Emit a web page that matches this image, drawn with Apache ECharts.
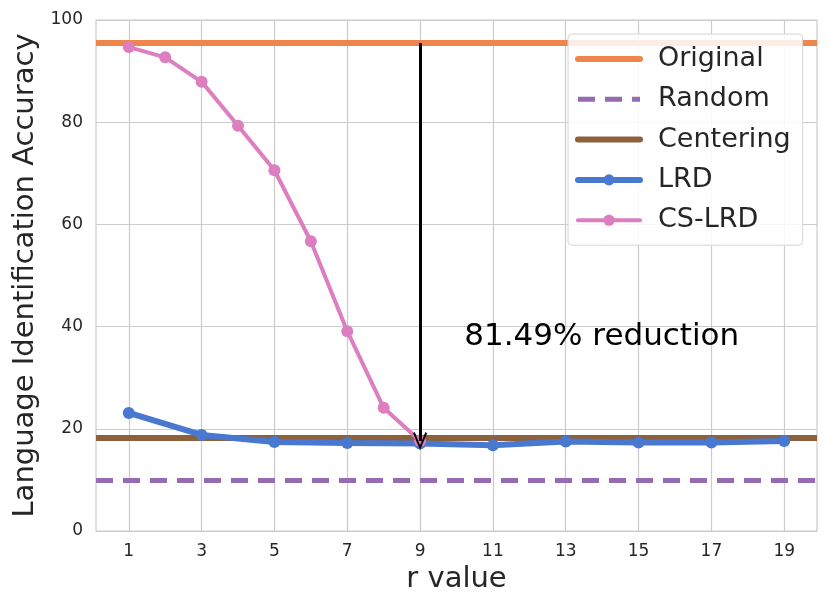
<!DOCTYPE html>
<html lang="en">
<head>
	<meta charset="UTF-8">
	<title>Language Identification Accuracy</title>
	<script src="https://cdn.jsdelivr.net/npm/echarts@6/dist/echarts.min.js"></script>
</head>
<body style="margin:0;">
	<div id='main' style="width:830px;height:611px;"></div>
<script type="text/javascript">
// data
var rTicks = [1, 3, 5, 7, 9, 11, 13, 15, 17, 19];
var lrdR   = [1, 3, 5, 7, 9, 11, 13, 15, 17, 19];
var lrdAcc = [23.1, 18.8, 17.4, 17.2, 17.1, 16.8, 17.5, 17.3, 17.3, 17.6];
var csR    = [1, 2, 3, 4, 5, 6, 7, 8, 9];
var csAcc  = [94.7, 92.7, 87.9, 79.3, 70.6, 56.7, 39.1, 24.1, 17.6];
var originalAcc  = 95.5;
var randomAcc    = 10;
var centeringAcc = 18.2;
var arrowR = 9;
var noteText = '81.49% reduction';
var notePos = [10.2, 38];

var font = 'DejaVu Sans';
function pairs(xs, ys) {
    var out = [];
    for (var i = 0; i < xs.length; i++) out.push([xs[i], ys[i]]);
    return out;
}
// horizontal reference line drawn with markLine
function hline(name, value, color, width, type) {
    return {
        name: name,
        type: 'line',
        data: [],
        symbol: 'none',
        lineStyle: { color: color, width: width, type: type, cap: 'butt' },
        itemStyle: { color: color },
        markLine: {
            silent: true,
            z: 1,
            symbol: 'none',
            label: { show: false },
            lineStyle: { color: color, width: width, type: type, opacity: 1 },
            data: [{ yAxis: value }]
        }
    };
}
var noMarker = { opacity: 0 };

var option = {
    animation: false,
    backgroundColor: '#fff',
    grid: {
        left: 96, right: 13, top: 20, bottom: 80,
        show: true, borderColor: '#cccccc', borderWidth: 1.2
    },
    legend: {
        orient: 'vertical',
        left: 568, top: 34,
        itemWidth: 62, itemHeight: 14, itemGap: 10.3,
        padding: [10, 12, 10, 7],
        backgroundColor: 'rgba(255,255,255,0.85)',
        borderColor: '#d6d6d6', borderWidth: 1, borderRadius: 4,
        lineStyle: { width: 'inherit', cap: 'round' },
        textStyle: { fontFamily: font, fontSize: 27, lineHeight: 30, color: '#262626', padding: [0, 0, 0, 13] },
        data: [
            { name: 'Original', itemStyle: noMarker },
            { name: 'Random', itemStyle: noMarker, lineStyle: { cap: 'butt' } },
            { name: 'Centering', itemStyle: noMarker },
            'LRD',
            'CS-LRD'
        ]
    },
    xAxis: {
        type: 'value',
        min: 0.1, max: 19.9,
        name: 'r value',
        nameLocation: 'middle',
        nameGap: 34,
        nameTextStyle: { fontFamily: font, fontSize: 29, color: '#262626' },
        axisLine: { show: false },
        axisTick: { show: false, customValues: rTicks },
        axisLabel: { customValues: rTicks, fontFamily: font, fontSize: 17, color: '#262626', margin: 12 },
        splitLine: { show: true, lineStyle: { color: '#cccccc', width: 1.2 } }
    },
    yAxis: {
        type: 'value',
        min: 0, max: 100, interval: 20,
        name: 'Language Identification Accuracy',
        nameLocation: 'middle',
        nameGap: 50,
        nameTextStyle: { fontFamily: font, fontSize: 29, color: '#262626' },
        axisLine: { show: false },
        axisTick: { show: false },
        axisLabel: { fontFamily: font, fontSize: 17, color: '#262626', margin: 13 },
        splitLine: { show: true, lineStyle: { color: '#cccccc', width: 1.2 } }
    },
    series: [
        hline('Original', originalAcc, '#ee854a', 6, 'solid'),
        hline('Random', randomAcc, '#956cb4', 5, [17, 10]),
        hline('Centering', centeringAcc, '#8c613c', 6, 'solid'),
        {
            name: 'LRD',
            type: 'line',
            data: pairs(lrdR, lrdAcc),
            symbol: 'circle', symbolSize: 12,
            lineStyle: { color: '#4878d0', width: 6 },
            itemStyle: { color: '#4878d0' },
            z: 3
        },
        {
            name: 'CS-LRD',
            type: 'line',
            data: pairs(csR, csAcc),
            symbol: 'circle', symbolSize: 12,
            lineStyle: { color: '#dc7ec0', width: 4 },
            itemStyle: { color: '#dc7ec0' },
            z: 4,
            markLine: {
                silent: true,
                symbol: ['none', 'path://M5,0 L10,9 L8.8,9.6 L5,2.6 L1.2,9.6 L0,9 Z'],
                symbolSize: [14, 18],
                label: { show: false },
                lineStyle: { color: '#000', width: 3, type: 'solid' },
                data: [[{ coord: [arrowR, originalAcc] }, { coord: [arrowR, csAcc[csAcc.length - 1]] }]]
            },
            markPoint: {
                silent: true,
                symbol: 'circle', symbolSize: 1,
                itemStyle: { color: 'rgba(0,0,0,0)' },
                label: {
                    show: true, position: 'right', distance: 0,
                    formatter: noteText,
                    fontFamily: font, fontSize: 31, color: '#000'
                },
                data: [{ coord: notePos }]
            }
        }
    ]
};
var myChart = echarts.init(document.getElementById('main'));
myChart.setOption(option);
</script>
</body>
</html>
